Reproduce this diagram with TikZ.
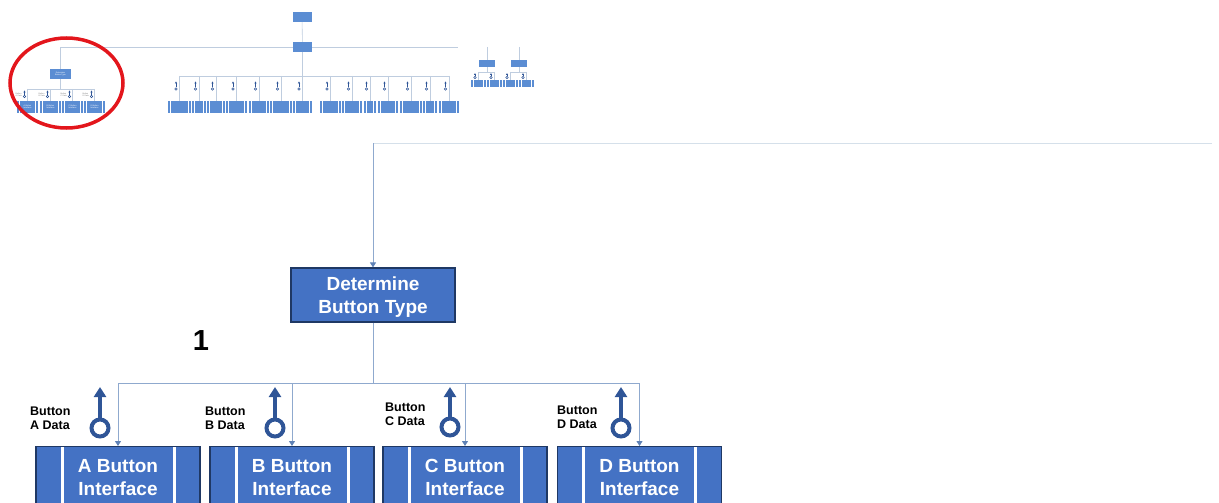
\documentclass[tikz,border=0pt]{standalone}
\usepackage{fontspec}
\setmainfont{Liberation Sans}
\usetikzlibrary{arrows.meta}
\definecolor{boxblue}{HTML}{4472C4}
\definecolor{boxedge}{HTML}{1F3864}
\definecolor{linec}{HTML}{8FA9CE}
\definecolor{tipc}{HTML}{5F82B6}
\definecolor{toplinec}{HTML}{D5E0EA}
\definecolor{couplec}{HTML}{2F5597}
\definecolor{thumbblue}{HTML}{5B8DD3}
\definecolor{thumbline}{HTML}{BFCDDF}
\definecolor{ringred}{HTML}{E3161C}
\newcommand\BigF{\bfseries\fontsize{19}{23}\selectfont}
\newcommand\LabF{\bfseries\fontsize{12.5}{14}\selectfont}
\newcommand\TinyF{\fontsize{2}{2.4}\selectfont}
\tikzset{
  bigbox/.style={draw=boxedge, line width=1.2pt, fill=boxblue, text=white, font=\BigF, align=center, inner sep=0pt},
  bigmod/.style={bigbox, anchor=north, minimum width=164pt, minimum height=62pt,
    path picture={
      \draw[white, line width=3pt] ([xshift=26pt]path picture bounding box.north west) -- ([xshift=26pt]path picture bounding box.south west);
      \draw[white, line width=3pt] ([xshift=-26pt]path picture bounding box.north east) -- ([xshift=-26pt]path picture bounding box.south east);}},
  conn/.style={draw=linec, line width=1pt},
  connarrow/.style={conn, -{Triangle[width=6pt,length=5pt,color=tipc]}},
  topline/.style={draw=toplinec, line width=1pt},
  coupcirc/.style={circle, draw=couplec, line width=4pt, minimum size=17pt, inner sep=0pt},
  couparrow/.style={draw=couplec, line width=3.5pt, -{Triangle[width=12pt,length=10pt]}},
  clabel/.style={font=\LabF, align=left, inner sep=0pt, anchor=north west, text=black},
  tbox/.style={fill=thumbblue, inner sep=0pt, text=white, font=\TinyF, align=center,
    path picture={
      \draw[white, line width=0.3pt] ([xshift=2.5pt]path picture bounding box.north west) -- ([xshift=2.5pt]path picture bounding box.south west);
      \draw[white, line width=0.3pt] ([xshift=-2.5pt]path picture bounding box.north east) -- ([xshift=-2.5pt]path picture bounding box.south east);}},
  tplain/.style={fill=thumbblue, inner sep=0pt, text=white, font=\TinyF, align=center},
  tline/.style={draw=thumbline, line width=0.6pt},
  tcirc/.style={circle, draw=couplec, line width=0.5pt, minimum size=2.6pt, inner sep=0pt},
  tarrow/.style={draw=couplec, line width=0.5pt, -{Triangle[width=2pt,length=1.8pt]}},
  tlabel/.style={font=\TinyF, text=gray, align=left, inner sep=0pt, anchor=east}
}
\begin{document}
\begin{tikzpicture}[x=1pt,y=-1pt]
\useasboundingbox (0,0) rectangle (1219,503);
\clip (0,0) rectangle (1219,503);

% ================= thumbnail overview =================
\node[tplain, minimum width=19pt, minimum height=10pt] (tmain) at (302,17) {};
\node[tplain, minimum width=19pt, minimum height=10pt] (tctl) at (302.5,47) {};
\draw[tline] (tmain) -- (tctl);

% left module
\node[tplain, minimum width=21pt, minimum height=10pt] (tdet) at (60.5,74) {Determine\\Button Type};
\coordinate (tcornerL) at (60.5,47);
\draw[tline] (tctl.west) -- (tcornerL) -- (tdet.north);
\coordinate (tbusL) at (60.5,89);
\draw[tline] (tdet.south) -- (tbusL);
\foreach \c/\n/\L in {27.5/1/A, 50.5/2/B, 72.5/3/C, 94.5/4/D}{
  \node[tbox, minimum width=21pt, minimum height=12pt] (tl\n) at (\c,107) {\L\ Button\\Interface};
  \coordinate (tlb\n) at (\c,89);
  \node[tcirc] (tlc\n) at (\c-3,96.5) {};
  \coordinate (tlt\n) at (\c-3,90.5);
  \draw[tarrow] (tlc\n.north) -- (tlt\n);
  \node[tlabel] (tll\n) at (\c-5.5,95) {Button\\\L\ Data};
}
\draw[tline] (tlb1) -- (tlb4);
\foreach \n in {1,...,4}{\draw[tline] (tlb\n) -- (tl\n.north);}

% middle module
\coordinate (tbusM) at (302.5,76);
\draw[tline] (tctl.south) -- (tbusM);
\foreach \c/\w [count=\n] in {179.5/23, 199/14, 216/18, 236.5/21, 259/20, 281/22, 302.5/19,
                              330.5/21, 352/20, 370/12, 388/20, 411/22, 430/14, 449/20}{
  \node[tbox, minimum width=\w pt, minimum height=12pt] (tm\n) at (\c,107) {};
  \coordinate (tmb\n) at (\c,76);
  \draw[tline] (tmb\n) -- (tm\n.north);
  \node[tcirc] (tmc\n) at (\c-3.5,89) {};
  \coordinate (tmt\n) at (\c-3.5,81.5);
  \draw[tarrow] (tmc\n.north) -- (tmt\n);
}
\draw[tline] (tmb1) -- (tmb14);

% right module
\coordinate (tr1) at (458,47);
\draw[tline] (tctl.east) -- (tr1);
\foreach \c [count=\n] in {487,519}{
  \coordinate (trt\n) at (\c,47);
  \node[tplain, minimum width=16pt, minimum height=7pt] (tr\n) at (\c,63.5) {};
  \draw[tline] (trt\n) -- (tr\n.north);
  \coordinate (trb\n) at (\c,72);
  \draw[tline] (tr\n.south) -- (trb\n);
}
\foreach \c/\p [count=\n] in {478/1, 494/1, 510/2, 526/2}{
  \node[tbox, minimum width=15pt, minimum height=7pt] (trc\n) at (\c,83.5) {};
  \coordinate (trd\n) at (\c,72);
  \draw[tline] (trd\n) -- (trc\n.north);
  \node[tcirc] (trq\n) at (\c-3,77.5) {};
  \coordinate (trp\n) at (\c-3,73.2);
  \draw[tarrow] (trq\n.north) -- (trp\n);
}
\draw[tline] (trd1) -- (trd2);
\draw[tline] (trd3) -- (trd4);

% red ring
\draw[ringred, line width=3.5pt] (66.5,83) ellipse [x radius=56.5pt, y radius=45pt];

% ================= enlarged view =================
\node[bigbox, minimum width=164pt, minimum height=54pt, text depth=0pt] (det) at (373,295) {\raisebox{0pt}[0pt][0pt]{}Determine\\Button Type};
\coordinate (topin) at (1212,143);
\coordinate (corner) at (373,143);
\draw[topline] (topin) -- (corner);
\draw[connarrow] (corner) -- (det.north);

\coordinate (bus) at (373,383);
\draw[conn] (det.south) -- (bus);

\node[font=\bfseries\fontsize{29}{29}\selectfont, inner sep=0pt] (one) at (201,341) {1};

\foreach \c/\L/\cx/\cy/\lx/\ly [count=\n] in
   {118/A/100/428/30/406.5, 292/B/275/428/205/406.5, 465/C/450/427/385/402.5, 639.5/D/621/428/557/405.5}{
  \node[bigmod] (m\n) at (\c,446) {\L\ Button\\Interface};
  \coordinate (b\n) at (\c,383);
  \draw[connarrow] (b\n) -- (m\n.north);
  \node[coupcirc] (c\n) at (\cx,\cy) {};
  \coordinate (ct\n) at (\cx,387);
  \draw[couparrow] (c\n.north) -- (ct\n);
  \node[clabel] (l\n) at (\lx,\ly) {Button\\\L\ Data};
}
\draw[conn] (b1) -- (b4);
\end{tikzpicture}
\end{document}
